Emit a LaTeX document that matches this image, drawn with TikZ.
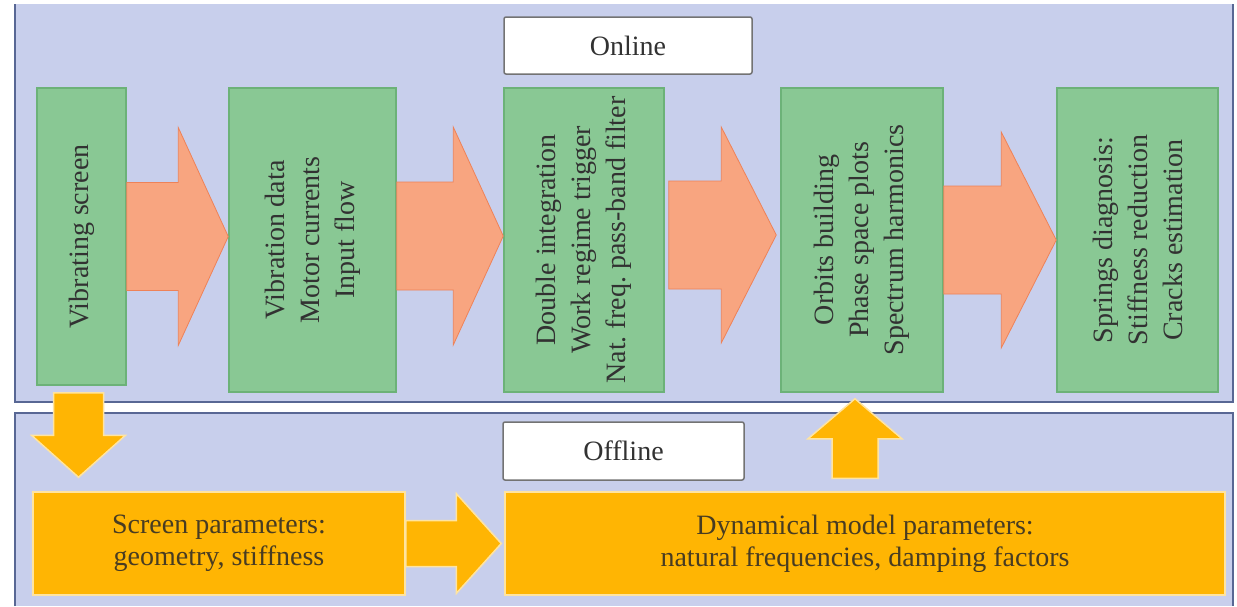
\documentclass[tikz,border=0pt]{standalone}
\usepackage{fontspec}
\setmainfont{Liberation Serif}
\usetikzlibrary{calc}
\frenchspacing

\definecolor{panelcolor}{RGB}{200,207,236}
\definecolor{panelline}{RGB}{88,103,148}
\definecolor{stagecolor}{RGB}{137,200,148}
\definecolor{stageline}{RGB}{108,178,120}
\definecolor{flowcolor}{RGB}{248,165,128}
\definecolor{flowline}{RGB}{238,130,88}
\definecolor{paramcolor}{RGB}{255,181,3}
\definecolor{paramline}{RGB}{255,228,160}
\definecolor{inkcolor}{RGB}{50,50,50}
\definecolor{paraminkcolor}{RGB}{72,60,34}

\tikzset{
  stage/.style={draw=stageline, fill=stagecolor, line width=1.5pt, inner sep=0pt},
  stagetext/.style={rotate=90, align=center, text=inkcolor, inner sep=0pt,
    font=\fontsize{28}{35}\selectfont},
  param/.style={draw=paramline, fill=paramcolor, line width=1.5pt, align=center,
    text=paraminkcolor, inner sep=0pt, font=\fontsize{28}{32}\selectfont},
  tag/.style={draw=black!55, fill=white, rounded corners=2pt, line width=1.5pt,
    inner sep=0pt, text=inkcolor, font=\fontsize{28}{30}\selectfont},
  flow/.style={fill=flowcolor, draw=flowline, line width=0.8pt},
  feed/.style={fill=paramcolor, draw=paramline, line width=1.5pt}
}

% block arrow: style, start, tip, shaft half width, head half width, head length
\newcommand{\blockarrow}[6]{%
  \coordinate (ba-s) at #2;
  \coordinate (ba-e) at #3;
  \coordinate (ba-h) at ($(ba-e)!#6!(ba-s)$);
  \filldraw[#1] ($(ba-s)!#4!90:(ba-e)$) -- ($(ba-h)!#4!-90:(ba-s)$)
    -- ($(ba-h)!#5!-90:(ba-s)$) -- (ba-e) -- ($(ba-h)!#5!90:(ba-s)$)
    -- ($(ba-h)!#4!90:(ba-s)$) -- ($(ba-s)!#4!-90:(ba-e)$) -- cycle;
}

\begin{document}
\begin{tikzpicture}[x=1pt, y=-1pt, line join=miter]
  \useasboundingbox (0,0) rectangle (1237,606);
  % panels
  \fill[panelcolor] (15,4) rectangle (1233,402);
  \draw[panelline, line width=2.5pt] (15,4) -- (15,402) -- (1233,402) -- (1233,4);
  \fill[panelcolor] (15,413) rectangle (1233,606);
  \draw[panelline, line width=2.5pt] (15,606) -- (15,413) -- (1233,413) -- (1233,606);

  \node[tag, minimum width=248, minimum height=57] (online) at (628,45.5) {Online};
  \node[tag, minimum width=241, minimum height=58] (offline) at (623.5,451) {Offline};

  % online stages
  \node[stage, minimum width=89, minimum height=297] (b1) at (81.5,236.5) {};
  \node[stage, minimum width=167, minimum height=304] (b2) at (312.5,240) {};
  \node[stage, minimum width=160, minimum height=304] (b3) at (584,240) {};
  \node[stage, minimum width=162, minimum height=304] (b4) at (862,240) {};
  \node[stage, minimum width=161, minimum height=304] (b5) at (1137.5,240) {};
  \node[stagetext] (b1-text) at (b1) {Vibrating screen};
  \node[stagetext] (b2-text) at (b2) {Vibration data\\Motor currents\\Input flow};
  \node[stagetext] (b3-text) at (b3) {Double integration\\Work regime trigger\\Nat. freq. pass-band filter};
  \node[stagetext] (b4-text) at (b4) {Orbits building\\Phase space plots\\Spectrum harmonics};
  \node[stagetext] (b5-text) at (b5) {Springs diagnosis:\\Stiffness reduction\\Cracks estimation};

  % offline parameters
  \node[param, minimum width=372, minimum height=103] (par1) at (219,543.5)
    {Screen parameters:\\geometry, stiffness};
  \node[param, minimum width=720, minimum height=103] (par2) at (865,543.5)
    {Dynamical model parameters:\\natural frequencies, damping factors};

  % arrows
  \blockarrow{flow}{(b1.east)}{(b1.east -| b2.west)}{54pt}{109pt}{50pt}
  \blockarrow{flow}{($(b2.east)+(0,-4)$)}{($(b3.west)+(0,-4)$)}{54pt}{109pt}{50pt}
  \blockarrow{flow}{($(b3.east)+(4,-5)$)}{($(b4.west)+(-4,-5)$)}{54pt}{108pt}{55pt}
  \blockarrow{flow}{(b4.east)}{(b5.west)}{54pt}{108pt}{55pt}
  \blockarrow{feed}{($(b1.south)+(-3,7)$)}{($(b1.south |- par1.north)+(-3,-14)$)}{25pt}{47pt}{42pt}
  \blockarrow{feed}{(par1.east)}{($(par2.west)+(-3,0)$)}{23pt}{50pt}{45pt}
  \blockarrow{feed}{($(b4.south |- par2.north)+(-7,-13)$)}{($(b4.south)+(-7,6)$)}{23pt}{47pt}{40pt}
\end{tikzpicture}
\end{document}
